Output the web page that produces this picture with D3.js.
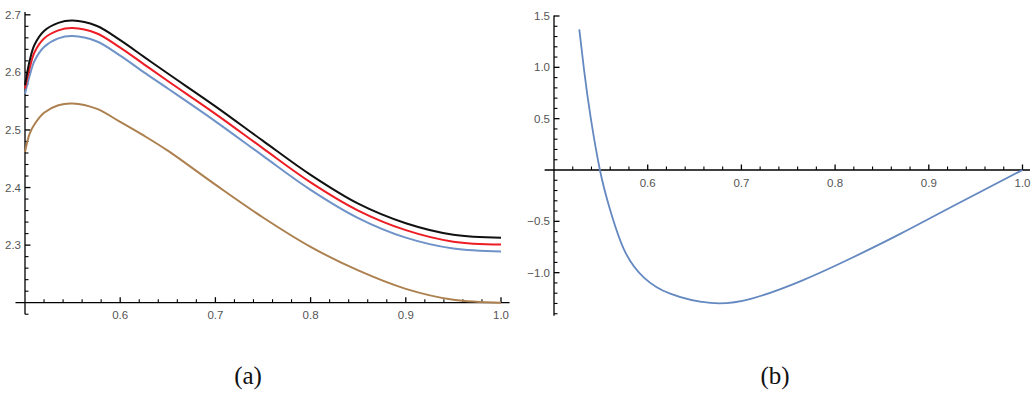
<!DOCTYPE html>
<html>
<head>
<meta charset="utf-8">
<script src="https://cdn.jsdelivr.net/npm/d3@7"></script>
<style>
  body { margin: 0; background: #fff; }
</style>
</head>
<body>
<script>
// values
var xsA    = [0.5, 0.505, 0.51, 0.52, 0.535, 0.55, 0.575, 0.6, 0.625, 0.65, 0.7, 0.75, 0.8, 0.85, 0.9, 0.95, 1.0];
var blackA = [2.578, 2.621, 2.648, 2.672, 2.686, 2.690, 2.681, 2.656, 2.627, 2.598, 2.541, 2.481, 2.422, 2.372, 2.338, 2.318, 2.313];
var redA   = [2.572, 2.608, 2.635, 2.659, 2.673, 2.677, 2.668, 2.643, 2.614, 2.585, 2.528, 2.468, 2.409, 2.360, 2.326, 2.306, 2.301];
var blueA  = [2.563, 2.595, 2.620, 2.644, 2.659, 2.663, 2.654, 2.629, 2.600, 2.572, 2.515, 2.455, 2.396, 2.347, 2.313, 2.294, 2.289];
var brownA = [2.462, 2.494, 2.510, 2.530, 2.543, 2.546, 2.537, 2.514, 2.490, 2.464, 2.405, 2.348, 2.297, 2.256, 2.224, 2.205, 2.200];

var xsB = [0.527, 0.532, 0.539, 0.549, 0.559, 0.575, 0.596, 0.624, 0.667, 0.71, 0.764, 0.817, 0.87, 0.924, 1.0];
var ysB = [1.37, 0.98, 0.52, 0.0, -0.36, -0.78, -1.048, -1.205, -1.295, -1.255, -1.08, -0.86, -0.62, -0.36, 0.0];

var xTicks = [0.6, 0.7, 0.8, 0.9, 1.0];
var yTicksA = [2.3, 2.4, 2.5, 2.6, 2.7];
var yTicksB = [-1.0, -0.5, 0.5, 1.0, 1.5];
var captions = ["(a)", "(b)"];

var width = 1036, height = 407;

var svg = d3.select("body").append("svg")
    .attr("width", width)
    .attr("height", height)
    .style("background", "#fff");

function notMajor(v, step) {
  var r = Math.abs(v / step - Math.round(v / step));
  return r > 1e-6;
}

var xMinor = d3.range(0.52, 1.0, 0.02).filter(function(v) { return notMajor(v, 0.1); });
var yMinorA = d3.range(2.18, 2.701, 0.02).filter(function(v) { return notMajor(v, 0.1); });
var yMinorB = d3.range(-1.4, 1.5, 0.1).filter(function(v) { return notMajor(v, 0.5); });

var fmt = d3.format(".1f");
var axisColor = "#000", labelColor = "#555";

// Mathematica-style axes: ticks point into the plot, axes cross at (x0, y0)
function drawAxes(g, x, y, x0, y0, xr, yr, yTicks, yMinor) {
  var ax = x(x0), ay = y(y0);
  g.append("line")
    .attr("x1", x(xr[0])).attr("x2", x(xr[1]))
    .attr("y1", ay).attr("y2", ay)
    .attr("stroke", axisColor).attr("stroke-width", 1.3);
  g.append("line")
    .attr("x1", ax).attr("x2", ax)
    .attr("y1", y(yr[0])).attr("y2", y(yr[1]))
    .attr("stroke", axisColor).attr("stroke-width", 1.3);

  var ticks = g.append("g").attr("stroke", axisColor);

  ticks.selectAll(".xmaj").data(xTicks).join("line")
    .attr("class", "xmaj")
    .attr("x1", function(d) { return x(d); }).attr("x2", function(d) { return x(d); })
    .attr("y1", ay).attr("y2", ay - 5.5)
    .attr("stroke-width", 1.3);
  ticks.selectAll(".xmin").data(xMinor).join("line")
    .attr("class", "xmin")
    .attr("x1", function(d) { return x(d); }).attr("x2", function(d) { return x(d); })
    .attr("y1", ay).attr("y2", ay - 3.5)
    .attr("stroke-width", 1.1);
  ticks.selectAll(".ymaj").data(yTicks).join("line")
    .attr("class", "ymaj")
    .attr("y1", function(d) { return y(d); }).attr("y2", function(d) { return y(d); })
    .attr("x1", ax).attr("x2", ax + 5.5)
    .attr("stroke-width", 1.3);
  ticks.selectAll(".ymin").data(yMinor).join("line")
    .attr("class", "ymin")
    .attr("y1", function(d) { return y(d); }).attr("y2", function(d) { return y(d); })
    .attr("x1", ax).attr("x2", ax + 3.5)
    .attr("stroke-width", 1.1);

  var labels = g.append("g")
    .style("font-family", "'Liberation Sans', Arial, sans-serif")
    .style("font-size", "11.5px")
    .style("fill", labelColor);
  labels.selectAll(".xlab").data(xTicks).join("text")
    .attr("class", "xlab")
    .attr("x", function(d) { return x(d); })
    .attr("y", ay + 16.5)
    .attr("text-anchor", "middle")
    .text(fmt);
  labels.selectAll(".ylab").data(yTicks).join("text")
    .attr("class", "ylab")
    .attr("x", ax - 4)
    .attr("y", function(d) { return y(d) + 4; })
    .attr("text-anchor", "end")
    .text(fmt);
}

// panel (a)
var xA = d3.scaleLinear().domain([0.5, 1.0]).range([25, 501]);
var yA = d3.scaleLinear().domain([2.2, 2.7]).range([302.7, 14.8]);
var gA = svg.append("g");
drawAxes(gA, xA, yA, 0.5, 2.2, [0.49, 1.009], [2.18, 2.705], yTicksA, yMinorA);

var lineA = d3.line()
  .x(function(d) { return xA(d[0]); })
  .y(function(d) { return yA(d[1]); })
  .curve(d3.curveCatmullRom.alpha(0.5));

var seriesA = [
  { vals: brownA, color: "#ad804f" },
  { vals: blueA,  color: "#6f93c8" },
  { vals: redA,   color: "#ee1c24" },
  { vals: blackA, color: "#111111" }
];
seriesA.forEach(function(s) {
  gA.append("path")
    .datum(d3.zip(xsA, s.vals))
    .attr("d", lineA)
    .attr("fill", "none")
    .attr("stroke", s.color)
    .attr("stroke-width", 2);
});

// panel (b)
var xB = d3.scaleLinear().domain([0.5, 1.0]).range([554, 1022.5]);
var yB = d3.scaleLinear().domain([0, 1.5]).range([170, 16]);
var gB = svg.append("g");
drawAxes(gB, xB, yB, 0.5, 0, [0.49, 1.008], [-1.42, 1.505], yTicksB, yMinorB);

var lineB = d3.line()
  .x(function(d) { return xB(d[0]); })
  .y(function(d) { return yB(d[1]); })
  .curve(d3.curveNatural);

gB.append("path")
  .datum(d3.zip(xsB, ysB))
  .attr("d", lineB)
  .attr("fill", "none")
  .attr("stroke", "#6488c0")
  .attr("stroke-width", 1.8);

// captions
svg.selectAll("text.caption")
  .data(captions)
  .join("text")
  .attr("class", "caption")
  .attr("x", function(d, i) { return i === 0 ? 248 : 775; })
  .attr("y", 384)
  .attr("text-anchor", "middle")
  .style("font-family", "'Liberation Serif', 'DejaVu Serif', serif")
  .style("font-size", "25px")
  .style("fill", "#111")
  .text(function(d) { return d; });
</script>
</body>
</html>
